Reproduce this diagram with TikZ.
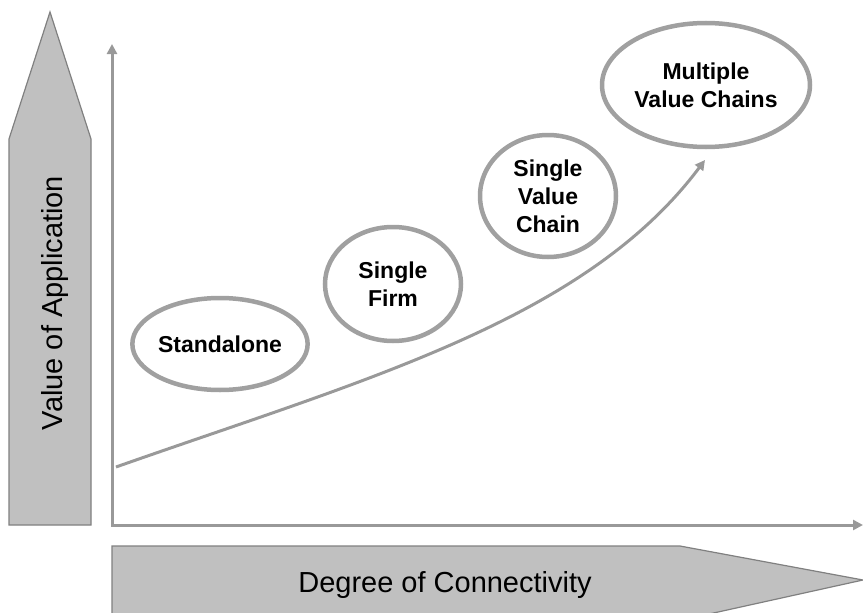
\documentclass[tikz,border=0pt]{standalone}
\usepackage{fontspec}
\setmainfont{Liberation Sans}
\usetikzlibrary{shapes.geometric,arrows.meta}
\definecolor{bandgray}{RGB}{192,192,192}
\definecolor{edgegray}{RGB}{128,128,128}
\definecolor{axisgray}{RGB}{153,153,153}
\definecolor{ringgray}{RGB}{160,160,160}
\tikzset{
  band/.style={fill=bandgray, draw=edgegray, line width=1.2pt},
  bandlabel/.style={font=\fontsize{29}{34}\selectfont, inner sep=0pt},
  axisline/.style={draw=axisgray, line width=3pt, line join=miter},
  trend/.style={draw=axisgray, line width=3pt, -{Triangle[length=10pt,width=10pt]}},
  stage/.style={ellipse, draw=ringgray, line width=4.5pt, inner sep=0pt, align=center,
    font=\fontsize{23}{28}\selectfont\bfseries}
}

\begin{document}
\begin{tikzpicture}[x=1pt,y=-1pt]
\useasboundingbox (0,0) rectangle (863,613);
\filldraw[band] (9,525) -- (9,139) -- (50,12) -- (91,139) -- (91,525) -- cycle;
\filldraw[band] (112,546) -- (680,546) -- (863,580) -- (700,616) -- (112,616) -- cycle;
\node[bandlabel, rotate=90, anchor=base] (vlabel) at (62,303) {Value of Application};
\node[bandlabel, anchor=base] (hlabel) at (445,592) {Degree of Connectivity};
\coordinate (ytop) at (112,44);
\coordinate (origin) at (112,525);
\coordinate (xend) at (863,525);
\draw[axisline, {Triangle[length=10pt,width=10pt]}-{Triangle[length=10pt,width=10pt]}] (ytop) -- (origin) -- (xend);
\node[stage, minimum width=156pt, minimum height=92pt] (standalone) at (220,344) {Standalone};
\node[stage, minimum width=136pt, minimum height=114pt] (firm) at (393,284) {Single\\Firm};
\node[stage, minimum width=136pt, minimum height=122pt] (chain) at (548,196) {Single\\Value\\Chain};
\node[stage, minimum width=208pt, minimum height=124pt] (multi) at (706,85) {Multiple\\Value Chains};
\coordinate (low) at (116,467);
\coordinate (high) at (705,160);
\draw[trend] (low) .. controls (366,379) and (585,320) .. (high);
\end{tikzpicture}
\end{document}
